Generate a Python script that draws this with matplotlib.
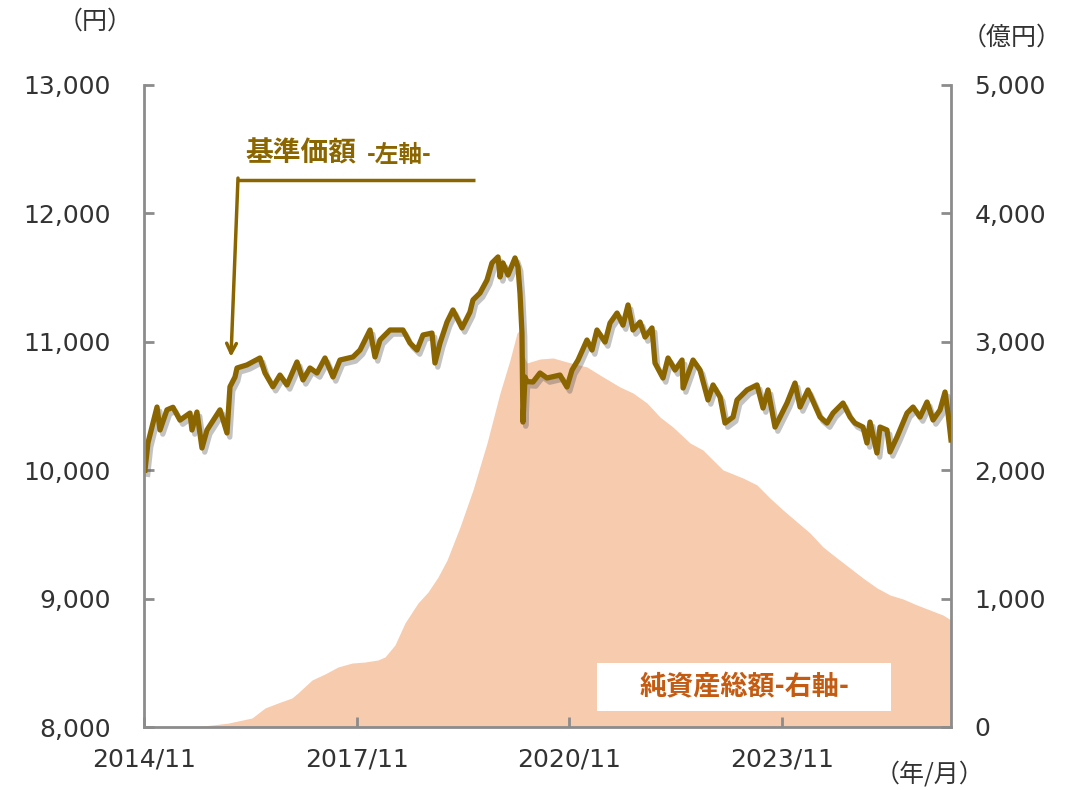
import matplotlib
matplotlib.use("Agg")
import matplotlib.pyplot as plt
import matplotlib.patheffects as pe
from matplotlib.patches import Rectangle

plt.rcParams['font.family'] = ['DejaVu Sans', 'Noto Sans CJK JP']

# 基準価額 (左軸, 円) -- time in decimal years
nav_t = [2014.847, 2014.889, 2015.017, 2015.059, 2015.157, 2015.242, 2015.341, 2015.482, 2015.510,
         2015.580, 2015.651, 2015.722, 2015.905, 2016.004, 2016.046, 2016.117, 2016.145, 2016.286,
         2016.469, 2016.540, 2016.652, 2016.751, 2016.850, 2016.991, 2017.076, 2017.174, 2017.273,
         2017.386, 2017.499, 2017.597, 2017.781, 2017.880, 2018.021, 2018.091, 2018.162, 2018.303,
         2018.486, 2018.585, 2018.684, 2018.768, 2018.895, 2018.937, 2019.008, 2019.107, 2019.191,
         2019.318, 2019.431, 2019.473, 2019.572, 2019.671, 2019.741, 2019.826, 2019.854, 2019.896,
         2019.967, 2020.066, 2020.108, 2020.136, 2020.164, 2020.178, 2020.207, 2020.235, 2020.320,
         2020.418, 2020.517, 2020.700, 2020.799, 2020.870, 2020.955, 2021.081, 2021.152, 2021.222,
         2021.336, 2021.406, 2021.505, 2021.589, 2021.660, 2021.730, 2021.829, 2021.900, 2021.998,
         2022.040, 2022.153, 2022.224, 2022.323, 2022.422, 2022.436, 2022.577, 2022.675, 2022.788,
         2022.859, 2022.958, 2023.028, 2023.141, 2023.197, 2023.338, 2023.479, 2023.564, 2023.634,
         2023.733, 2023.902, 2024.015, 2024.086, 2024.198, 2024.368, 2024.466, 2024.551, 2024.692,
         2024.791, 2024.861, 2024.974, 2025.030, 2025.073, 2025.171, 2025.214, 2025.312, 2025.355,
         2025.454, 2025.595, 2025.680, 2025.778, 2025.877, 2025.962, 2026.060, 2026.131, 2026.173,
         2026.215]
nav_v = [10000, 10212, 10492, 10313, 10470, 10490, 10390, 10445, 10313,
         10453, 10173, 10313, 10470, 10290, 10650, 10726, 10796, 10820,
         10874, 10757, 10650, 10741, 10664, 10843, 10703, 10796, 10757,
         10874, 10726, 10858, 10882, 10936, 11092, 10882, 11014, 11092,
         11092, 10990, 10936, 11053, 11068, 10835, 10990, 11154, 11248,
         11108, 11232, 11326, 11380, 11481, 11614, 11661, 11505, 11614,
         11520, 11653, 11583, 11380, 11068, 10375, 10726, 10690, 10687,
         10757, 10718, 10741, 10648, 10780, 10858, 11014, 10936, 11092,
         10998, 11146, 11224, 11130, 11287, 11092, 11154, 11037, 11108,
         10835, 10718, 10874, 10780, 10858, 10640, 10858, 10780, 10547,
         10664, 10570, 10367, 10414, 10547, 10625, 10664, 10484, 10625,
         10336, 10523, 10679, 10492, 10625, 10414, 10367, 10445, 10523,
         10414, 10367, 10336, 10212, 10375, 10134, 10336, 10313, 10142,
         10259, 10445, 10492, 10414, 10531, 10391, 10469, 10609, 10445,
         10236]

# 純資産総額 (右軸, 億円)
aum_t = [2014.847, 2015.552, 2016.018, 2016.356, 2016.540, 2016.723, 2016.920, 2017.005, 2017.203,
         2017.386, 2017.569, 2017.767, 2017.950, 2018.133, 2018.232, 2018.373, 2018.514, 2018.698,
         2018.839, 2018.980, 2019.107, 2019.290, 2019.473, 2019.671, 2019.854, 2019.995, 2020.094,
         2020.136, 2020.178, 2020.235, 2020.418, 2020.602, 2020.799, 2021.081, 2021.264, 2021.547,
         2021.730, 2021.928, 2022.111, 2022.294, 2022.534, 2022.717, 2022.999, 2023.282, 2023.479,
         2023.662, 2023.846, 2024.043, 2024.226, 2024.410, 2024.607, 2024.791, 2024.974, 2025.171,
         2025.355, 2025.538, 2025.736, 2025.919, 2026.102, 2026.215]
aum_v = [0, 0, 30, 70, 148, 187, 226, 265, 366,
         413, 467, 498, 506, 522, 545, 639, 810, 966,
         1051, 1168, 1300, 1558, 1846, 2212, 2601, 2858, 3068,
         3092, 2900, 2835, 2866, 2874, 2843, 2804, 2741, 2648,
         2601, 2523, 2414, 2336, 2212, 2157, 2002, 1939, 1885,
         1783, 1690, 1597, 1511, 1402, 1316, 1238, 1160, 1083,
         1028, 997, 950, 911, 872, 833]

xtick_pos = [2014 + 10/12, 2017 + 10/12, 2020 + 10/12, 2023 + 10/12]
xtick_labels = ['2014/11', '2017/11', '2020/11', '2023/11']
left_ticks = [8000, 9000, 10000, 11000, 12000, 13000]
right_ticks = [0, 1000, 2000, 3000, 4000, 5000]

LINE_C = '#8B6600'
FILL_C = '#F7CBAD'
SPINE_C = '#8C8C8C'
TXT_C = '#333333'
CJK = ['Noto Sans CJK JP', 'DejaVu Sans']

fig = plt.figure(figsize=(10.69, 7.90), dpi=100)
ax1 = fig.add_axes([144/1069, 1-727/790, (951-144)/1069, (727-85)/790])
ax2 = ax1.twinx()
ax1.set_zorder(2)
ax1.patch.set_visible(False)

ax2.fill_between(aum_t, aum_v, 0, color=FILL_C, lw=0)
ax2.set_ylim(0, 5000)
ax2.set_yticks(right_ticks)
ax2.set_yticklabels([f'{v:,}' for v in right_ticks])

ax1.plot(nav_t, nav_v, color=LINE_C, lw=3.8, solid_joinstyle='round',
         path_effects=[pe.SimpleLineShadow(offset=(2, -3), shadow_color='#555555', alpha=0.35),
                       pe.Normal()])
ax1.set_ylim(8000, 13000)
ax1.set_xlim(2014 + 10/12, 2026.215)
ax1.set_yticks(left_ticks)
ax1.set_yticklabels([f'{v:,}' for v in left_ticks])
ax1.set_xticks(xtick_pos)
ax1.set_xticklabels(xtick_labels)

for ax in (ax1, ax2):
    ax.spines['top'].set_visible(False)
    for s in ('left', 'right', 'bottom'):
        ax.spines[s].set_color(SPINE_C)
        ax.spines[s].set_linewidth(2)
    ax.tick_params(direction='in', length=7, width=2, color=SPINE_C,
                   labelsize=18, labelcolor=TXT_C)
ax1.spines['right'].set_visible(False)
ax2.spines['left'].set_visible(False)
ax2.spines['bottom'].set_visible(False)
ax1.tick_params(axis='y', pad=24)
ax1.tick_params(axis='x', pad=15)
ax2.tick_params(axis='y', pad=17)

# unit labels
fig.text(95/1069, 1-22/790, '（円）', ha='center', va='center', fontsize=18, color=TXT_C, family=CJK)
fig.text(1012/1069, 1-38/790, '（億円）', ha='center', va='center', fontsize=18, color=TXT_C, family=CJK)
fig.text(930/1069, 1-775/790, '（年/月）', ha='center', va='center', fontsize=18, color=TXT_C, family=CJK)

# annotation for NAV
ax1.text(2016.27, 12465, '基準価額', color=LINE_C, fontsize=20, fontweight='bold',
         ha='left', va='center', family=CJK)
ax1.text(2017.98, 12455, '-左軸-', color=LINE_C, fontsize=17, fontweight='bold',
         ha='left', va='center', family=CJK)
ax1.plot([2019.502, 2016.159], [12260, 12260], color=LINE_C, lw=2.5, solid_capstyle='butt')
ax1.annotate('', xy=(2016.06, 10882), xytext=(2016.159, 12275),
             arrowprops=dict(arrowstyle='->,head_length=0.7,head_width=0.35', color=LINE_C, lw=2.5,
                             shrinkA=0, shrinkB=0))

# annotation box for AUM
ax1.add_patch(Rectangle((0.561, 0.025), 0.365, 0.075, transform=ax1.transAxes,
                        facecolor='white', edgecolor='none', zorder=3))
ax1.text(0.7435, 0.062, '純資産総額-右軸-', transform=ax1.transAxes, color='#C55A11',
         fontsize=19.5, fontweight='bold', ha='center', va='center', zorder=4,
         family=CJK)

fig.savefig('out.png', dpi=100)
